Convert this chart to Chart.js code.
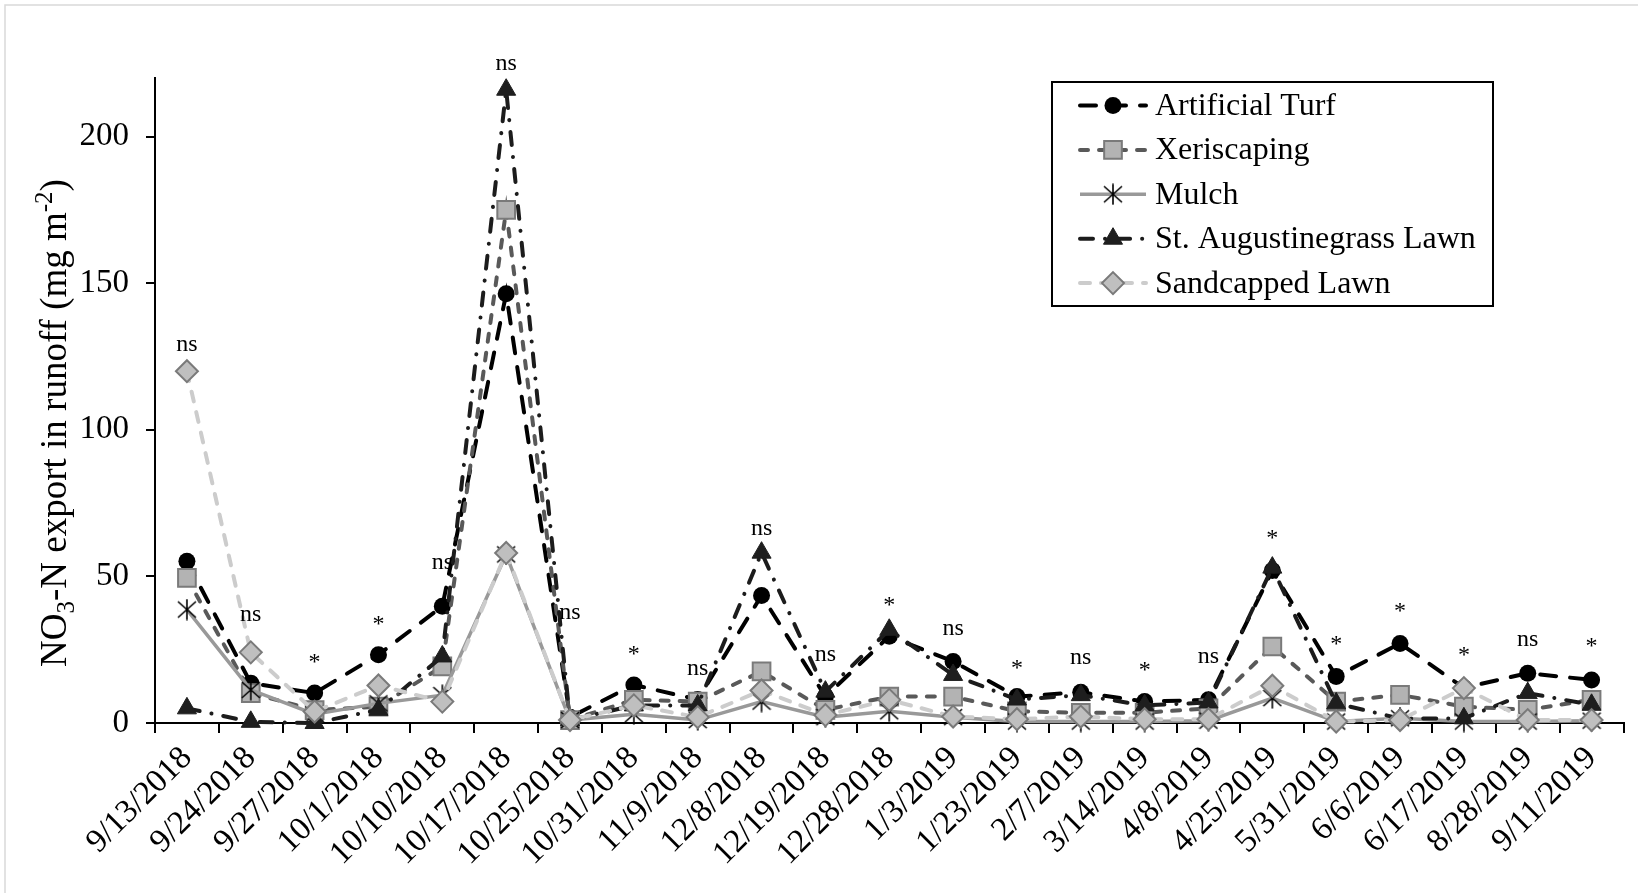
<!DOCTYPE html>
<html>
<head>
<meta charset="utf-8">
<title>NO3-N export in runoff</title>
<script src="https://cdn.jsdelivr.net/npm/chart.js@4.4.1/dist/chart.umd.min.js"></script>
<style>
  html, body { margin: 0; padding: 0; background: #fff; }
  #wrap { width: 1638px; height: 893px; position: relative; }
</style>
</head>
<body>
<div id="wrap"><canvas id="runoffChart" width="1638" height="893"></canvas></div>
<script>
// sampling dates (x categories)
const dates = ['9/13/2018', '9/24/2018', '9/27/2018', '10/1/2018', '10/10/2018', '10/17/2018',
  '10/25/2018', '10/31/2018', '11/9/2018', '12/8/2018', '12/19/2018', '12/28/2018',
  '1/3/2019', '1/23/2019', '2/7/2019', '3/14/2019', '4/8/2019', '4/25/2019',
  '5/31/2019', '6/6/2019', '6/17/2019', '8/28/2019', '9/11/2019'];

// NO3-N export (mg m-2)
const artificialTurf = [55.2, 13.6, 10.2, 23.3, 39.8, 146.4, 2, 13, 8, 43.5, 9, 29.6,
  21, 9, 10.5, 7.3, 7.9, 52, 15.9, 27.1, 12, 17, 14.7];
const xeriscaping = [49.5, 10.2, 4.4, 5.6, 19.3, 175, 1, 7.9, 7.3, 17.6, 4.5, 9,
  9, 4, 3.5, 3.5, 5, 26.1, 7.3, 9.6, 5.6, 4.5, 7.9];
const mulch = [38.7, 11.3, 3, 6.7, 9.5, 57.5, 1, 3, 1, 7.3, 2, 4,
  2, 0.5, 0.5, 0.5, 0.8, 8.5, 0.5, 1.6, 0.5, 0.5, 0.8];
const stAugustine = [5, 0.4, 0, 4.5, 22.7, 216, 1, 6, 6, 58.1, 10.7, 31.8,
  16.4, 8, 9.5, 6, 7, 53, 6.7, 1.5, 1.6, 10.2, 6.2];
const sandcapped = [120, 24.1, 3.9, 12.8, 7.3, 58, 1, 6, 2, 11.1, 2.7, 7.9,
  2.2, 1.3, 2.2, 1.3, 1.3, 12.7, 0.5, 1, 11.9, 1, 1];

// significance marks and the height (data units) where each one sits
const sigLabels = ['ns', 'ns', '*', '*', 'ns', 'ns', 'ns', '*', 'ns', 'ns', 'ns', '*',
  'ns', '*', 'ns', '*', 'ns', '*', '*', '*', '*', 'ns', '*'];
const sigLevel = [128.7, 36.4, 22.1, 35.3, 54.2, 224.3, 37.1, 25, 18.2, 66, 22.8, 41.7,
  31.7, 20, 21.8, 19.6, 22.1, 64.6, 28.2, 39.6, 24.6, 27.8, 27.5];

const yTicks = [0, 50, 100, 150, 200];
const yMax = 220;

const SERIF = '"Liberation Serif", "Times New Roman", serif';

// Excel style star marker: an X with a vertical bar
function makeStar(w, h) {
  const c = document.createElement('canvas');
  c.width = w;
  c.height = h;
  const g = c.getContext('2d');
  g.strokeStyle = '#000';
  g.lineWidth = 1.6;
  g.beginPath();
  g.moveTo(w / 2, 0.5); g.lineTo(w / 2, h - 0.5);
  g.moveTo(1, 3); g.lineTo(w - 1, h - 3);
  g.moveTo(1, h - 3); g.lineTo(w - 1, 3);
  g.stroke();
  return c;
}
const starImg = makeStar(20, 22);

function drawMarker(ctx, ds, x, y) {
  const r = ds.pointRadius;
  const st = ds.pointStyle;
  if (st instanceof HTMLCanvasElement) {
    ctx.drawImage(st, x - st.width / 2, y - st.height / 2);
    return;
  }
  ctx.save();
  ctx.setLineDash([]);
  ctx.fillStyle = ds.pointBackgroundColor;
  ctx.strokeStyle = ds.pointBorderColor;
  ctx.lineWidth = ds.pointBorderWidth;
  ctx.beginPath();
  if (st === 'circle') {
    ctx.arc(x, y, r, 0, Math.PI * 2);
  } else if (st === 'rect') {
    const s = r * Math.SQRT1_2;
    ctx.rect(x - s, y - s, 2 * s, 2 * s);
  } else if (st === 'triangle') {
    ctx.moveTo(x, y - r);
    ctx.lineTo(x + r * 0.866, y + r * 0.5);
    ctx.lineTo(x - r * 0.866, y + r * 0.5);
    ctx.closePath();
  } else if (st === 'rectRot') {
    ctx.moveTo(x, y - r);
    ctx.lineTo(x + r, y);
    ctx.lineTo(x, y + r);
    ctx.lineTo(x - r, y);
    ctx.closePath();
  }
  ctx.fill();
  if (ds.pointBorderWidth > 0) ctx.stroke();
  ctx.restore();
}

// boxed legend in the upper right
const legendPlugin = {
  id: 'boxLegend',
  afterDraw(chart) {
    const ctx = chart.ctx;
    const box = { left: 1052, top: 82, right: 1493, bottom: 306 };
    ctx.save();
    ctx.fillStyle = '#fff';
    ctx.fillRect(box.left, box.top, box.right - box.left, box.bottom - box.top);
    ctx.strokeStyle = '#000';
    ctx.lineWidth = 2;
    ctx.strokeRect(box.left, box.top, box.right - box.left, box.bottom - box.top);
    chart.data.datasets.forEach((ds, i) => {
      const y = 105.5 + i * 44.4;
      ctx.save();
      ctx.strokeStyle = ds.borderColor;
      ctx.lineWidth = ds.borderWidth;
      ctx.lineCap = ds.borderCapStyle || 'butt';
      ctx.setLineDash(ds.borderDash || []);
      ctx.beginPath();
      ctx.moveTo(1080, y);
      ctx.lineTo(1146, y);
      ctx.stroke();
      ctx.restore();
      drawMarker(ctx, ds, 1113, y);
      ctx.fillStyle = '#000';
      ctx.font = '32px ' + SERIF;
      ctx.textBaseline = 'middle';
      ctx.textAlign = 'left';
      ctx.fillText(ds.label, 1155, y + 1);
    });
    ctx.restore();
  }
};

// ns / * above each sampling date
const sigPlugin = {
  id: 'sigMarks',
  afterDatasetsDraw(chart) {
    const ctx = chart.ctx;
    const xs = chart.scales.x, ys = chart.scales.y;
    ctx.save();
    ctx.fillStyle = '#000';
    ctx.font = '24px ' + SERIF;
    ctx.textAlign = 'center';
    ctx.textBaseline = 'alphabetic';
    sigLabels.forEach((t, i) => {
      const x = xs.getPixelForValue(i);
      const y = ys.getPixelForValue(sigLevel[i]);
      ctx.fillText(t, x, y + (t === '*' ? 11 : 5));
    });
    ctx.restore();
  }
};

// rotated y title with sub/superscripts
const yTitlePlugin = {
  id: 'yTitle',
  afterDraw(chart) {
    const ctx = chart.ctx;
    const big = 37, small = 25;
    const parts = [
      { t: 'NO', f: big, dy: 0 },
      { t: '3', f: small, dy: 8 },
      { t: '-N export in runoff (mg m', f: big, dy: 0 },
      { t: '-2', f: small, dy: -14 },
      { t: ')', f: big, dy: 0 }
    ];
    ctx.save();
    let total = 0;
    parts.forEach(p => {
      ctx.font = p.f + 'px ' + SERIF;
      p.w = ctx.measureText(p.t).width;
      total += p.w;
    });
    ctx.translate(66, 423);
    ctx.rotate(-Math.PI / 2);
    ctx.fillStyle = '#000';
    ctx.textBaseline = 'alphabetic';
    ctx.textAlign = 'left';
    let x = -total / 2;
    parts.forEach(p => {
      ctx.font = p.f + 'px ' + SERIF;
      ctx.fillText(p.t, x, p.dy);
      x += p.w;
    });
    ctx.restore();

    // faint outer frame
    ctx.save();
    ctx.strokeStyle = '#d9d9d9';
    ctx.lineWidth = 1.5;
    ctx.beginPath();
    ctx.moveTo(5, 893);
    ctx.lineTo(5, 5);
    ctx.lineTo(1638, 5);
    ctx.stroke();
    ctx.restore();
  }
};

const ctx = document.getElementById('runoffChart').getContext('2d');
const runoffChart = new Chart(ctx, {
  type: 'line',
  data: {
    labels: dates,
    datasets: [
      {
        label: 'Artificial Turf',
        data: artificialTurf,
        borderColor: '#000000',
        borderWidth: 4,
        borderDash: [16, 14],
        borderCapStyle: 'round',
        pointStyle: 'circle',
        pointRadius: 8.5,
        pointBackgroundColor: '#000000',
        pointBorderColor: '#000000',
        pointBorderWidth: 0,
        order: 5
      },
      {
        label: 'Xeriscaping',
        data: xeriscaping,
        borderColor: '#595959',
        borderWidth: 4,
        borderDash: [8, 11],
        borderCapStyle: 'round',
        pointStyle: 'rect',
        pointRadius: 12.5,
        pointBackgroundColor: '#b3b3b3',
        pointBorderColor: '#7a7a7a',
        pointBorderWidth: 2,
        order: 4
      },
      {
        label: 'Mulch',
        data: mulch,
        borderColor: '#999999',
        borderWidth: 3.5,
        borderDash: [],
        borderCapStyle: 'butt',
        pointStyle: starImg,
        pointRadius: 10,
        pointBackgroundColor: '#000000',
        pointBorderColor: '#000000',
        pointBorderWidth: 0,
        order: 3
      },
      {
        label: 'St. Augustinegrass Lawn',
        data: stAugustine,
        borderColor: '#1c1c1c',
        borderWidth: 4,
        borderDash: [13, 12, 0.1, 12],
        borderCapStyle: 'round',
        pointStyle: 'triangle',
        pointRadius: 11,
        pointBackgroundColor: '#1e1e1e',
        pointBorderColor: '#1e1e1e',
        pointBorderWidth: 1,
        order: 2
      },
      {
        label: 'Sandcapped Lawn',
        data: sandcapped,
        borderColor: '#cccccc',
        borderWidth: 4,
        borderDash: [10, 11],
        borderCapStyle: 'round',
        pointStyle: 'rectRot',
        pointRadius: 11,
        pointBackgroundColor: '#bfbfbf',
        pointBorderColor: '#7a7a7a',
        pointBorderWidth: 2,
        order: 1
      }
    ]
  },
  options: {
    responsive: false,
    animation: false,
    devicePixelRatio: 1,
    layout: { padding: { left: 0, right: 4, top: 78, bottom: 0 } },
    elements: { line: { tension: 0 } },
    datasets: { line: { clip: false } },
    plugins: {
      legend: { display: false },
      tooltip: { enabled: false }
    },
    scales: {
      x: {
        type: 'category',
        offset: true,
        grid: {
          drawOnChartArea: false,
          drawTicks: true,
          tickLength: 10,
          color: '#000',
          lineWidth: 2,
          offset: true
        },
        border: { color: '#000', width: 2 },
        ticks: {
          color: '#000',
          font: { family: SERIF, size: 33 },
          minRotation: 45,
          maxRotation: 45,
          autoSkip: false,
          padding: 6
        },
        afterFit(scale) { scale.height = 170; }
      },
      y: {
        min: 0,
        max: yMax,
        grid: {
          drawOnChartArea: false,
          drawTicks: true,
          tickLength: 9,
          color: '#000',
          lineWidth: 2
        },
        border: { color: '#000', width: 2 },
        ticks: {
          color: '#000',
          font: { family: SERIF, size: 33 },
          padding: 17
        },
        afterBuildTicks(scale) { scale.ticks = yTicks.map(v => ({ value: v })); },
        afterFit(scale) { scale.width = 155; }
      }
    }
  },
  plugins: [sigPlugin, legendPlugin, yTitlePlugin]
});
</script>
</body>
</html>
